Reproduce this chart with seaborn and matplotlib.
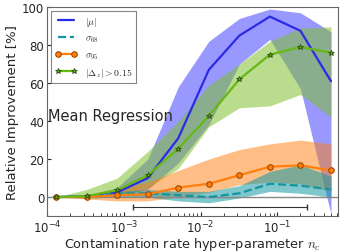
import matplotlib
matplotlib.use('Agg')
import matplotlib.pyplot as plt
import seaborn as sns
import numpy as np
import pandas as pd

# contamination rate values (x)
n_c = [1.31e-4, 3.28e-4, 8.19e-4, 2.05e-3, 5.12e-3, 1.28e-2, 3.2e-2, 8e-2, 0.2, 0.5]

# |mu|
mu = [0, 0.5, 2.5, 10, 31, 67, 85, 95, 87.5, 61]
mu_lo = [0, 0, 1, 4, 18, 38, 70, 83, 57, -9]
mu_hi = [0, 1, 5, 20, 58, 82, 94, 99, 97, 87]

# sigma_68
s68 = [0, 0.3, 1.8, 2, 1, 0, 2, 7, 6, 4]
s68_lo = [0, -0.5, 0, 0, -2, -3, -0.5, 3, 2, 0]
s68_hi = [0, 0.5, 3, 4, 3, 3, 6, 13.5, 17, 11]

# sigma_95
s95 = [0, 0, 1, 1.5, 5, 7, 11.5, 16, 16.7, 14]
s95_lo = [0, -1, -2, -2, 0, 2.5, 6.5, 8, 7, 3]
s95_hi = [0, 1, 4, 8, 14, 20, 25, 28, 30, 28]

# |Delta_z| > 0.15
dz = [0, 0.5, 3.6, 11.5, 25.5, 42.7, 62, 75, 79, 76]
dz_lo = [0, 0, 0.5, 5, 15, 37, 47, 48, 54, 42]
dz_hi = [0, 4, 10, 24, 40, 59, 70, 82, 89, 89.6]

# range bar
bar_x = [1.3e-3, 0.245]
bar_y = -5

df = pd.DataFrame({'n_c': n_c, 'mu': mu, 's68': s68, 's95': s95, 'dz': dz})

sns.set_style('ticks')
plt.rcParams['mathtext.fontset'] = 'cm'
plt.rcParams['font.family'] = ['DejaVu Sans']

fig, ax = plt.subplots(figsize=(3.44, 2.53), dpi=100)
fig.subplots_adjust(left=0.137, right=0.983, top=0.968, bottom=0.142)

blue = '#2b2be6'
teal = '#14959f'
orange = '#ff7f0e'
green = '#66b814'

# bands
ax.fill_between(n_c, mu_lo, mu_hi, color='#3333ff', alpha=0.5, lw=0)
ax.fill_between(n_c, dz_lo, dz_hi, color='#80c030', alpha=0.55, lw=0)
ax.fill_between(n_c, s95_lo, s95_hi, color=orange, alpha=0.5, lw=0)
ax.fill_between(n_c, s68_lo, s68_hi, color='#129aa5', alpha=0.55, lw=0)

ax.axhline(0, color='#888888', lw=1)

# lines
sns.lineplot(data=df, x='n_c', y='mu', color=blue, lw=1.6, label=r'$|\mu|$', ax=ax)
sns.lineplot(data=df, x='n_c', y='s68', color=teal, lw=1.6, ls='--', label=r'$\sigma_{68}$', ax=ax)
sns.lineplot(data=df, x='n_c', y='s95', color=orange, lw=1.6, marker='o', ms=4,
             mec='#a04a00', mew=0.8, label=r'$\sigma_{95}$', ax=ax)
sns.lineplot(data=df, x='n_c', y='dz', color=green, lw=1.6, marker='*', ms=4,
             mec='#2d4a10', mew=0.6, label=r'$|\Delta_z| > 0.15$', ax=ax)

# range of contamination rates
xc = np.sqrt(bar_x[0] * bar_x[1])
ax.errorbar([xc], [bar_y], xerr=[[xc - bar_x[0]], [bar_x[1] - xc]], fmt='none',
            ecolor='#333333', elinewidth=0.8, capsize=2.5)

ax.text(1.03e-4, 43, 'Mean Regression', fontsize=10.5, va='center', ha='left')

ax.set_xscale('log')
ax.set_xlim(1e-4, 0.62)
ax.set_ylim(-10, 100)
ax.set_yticks([0, 20, 40, 60, 80, 100])
ax.set_xlabel('Contamination rate hyper-parameter $n_c$', fontsize=9.3, labelpad=0)
ax.set_ylabel('Relative Improvement [%]', fontsize=9.5, labelpad=2)
ax.tick_params(labelsize=8.5, length=3, pad=2, direction='in')
ax.tick_params(which='minor', direction='in', length=2)
for s in ax.spines.values():
    s.set_color('#666666')

leg = ax.legend(loc='upper left', fontsize=7, fancybox=False, edgecolor='#666666',
                numpoints=2, handlelength=2.3, borderaxespad=0.4, labelspacing=0.5)
leg.get_frame().set_linewidth(0.8)

plt.savefig('out.png', dpi=100)
